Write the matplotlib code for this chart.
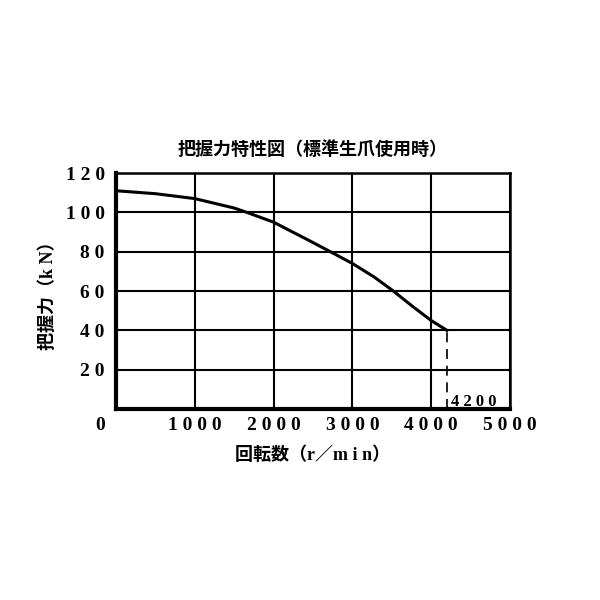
import matplotlib
matplotlib.use("Agg")
import matplotlib.pyplot as plt

plt.rcParams['font.family'] = ['Noto Sans CJK JP', 'DejaVu Sans']

# data
rpm = [0, 500, 1000, 1500, 1660, 2000, 2460, 2720, 3000, 3270, 3520, 3770, 4000, 4200]
force = [111, 109.5, 107, 102.2, 100, 95, 85.5, 80, 74, 67.3, 60, 52, 45, 40]
x_ticks = [1000, 2000, 3000, 4000, 5000]
y_ticks = [20, 40, 60, 80, 100, 120]
max_rpm = 4200

title = "把握力特性図（標準生爪使用時）"
xlabel = "回転数（r／m i n）"
ylabel = "把握力（k N）"

digit_font = dict(family='Liberation Serif', weight='bold', size=14)
label_family = ['Liberation Serif', 'Noto Sans CJK JP', 'DejaVu Sans']

def spaced(v):
    return " ".join(str(v))

fig = plt.figure(figsize=(6, 6), dpi=100)
ax = fig.add_axes([0.1933, 0.3183, 0.6567, 0.3933])

ax.plot(rpm, force, color='black', lw=2.2, solid_joinstyle='round')
ax.plot([max_rpm, max_rpm], [0, force[-1]], color='black', lw=1.2, ls=(0, (6, 4)))

ax.set_xlim(0, 5000)
ax.set_ylim(0, 120)
ax.set_xticks(x_ticks)
ax.set_yticks(y_ticks)
ax.set_xticklabels([spaced(v) for v in x_ticks], fontdict=digit_font)
ax.set_yticklabels([spaced(v) for v in y_ticks], fontdict=digit_font)
ax.tick_params(axis='y', length=0, pad=8)
ax.tick_params(axis='x', length=0, pad=6)
ax.grid(True, color='black', lw=1.5)

for side in ['left', 'bottom']:
    ax.spines[side].set_linewidth(3)
for side in ['top', 'right']:
    ax.spines[side].set_linewidth(1.8)

# origin label sits left of the axis
ax.text(-203, -8.5, "0", ha='center', va='center', fontdict=digit_font)
ax.text(max_rpm + 50, 3.5, spaced(max_rpm), ha='left', va='center',
        fontdict=dict(family='Liberation Serif', weight='bold', size=12))

ax.set_title(title, fontsize=13, fontweight='bold', pad=13)
ax.set_xlabel(xlabel, family=label_family, fontsize=13, fontweight='bold', labelpad=9)
ax.set_ylabel(ylabel, family=label_family, fontsize=13, fontweight='bold', labelpad=6)

fig.savefig("out.png", dpi=100)
